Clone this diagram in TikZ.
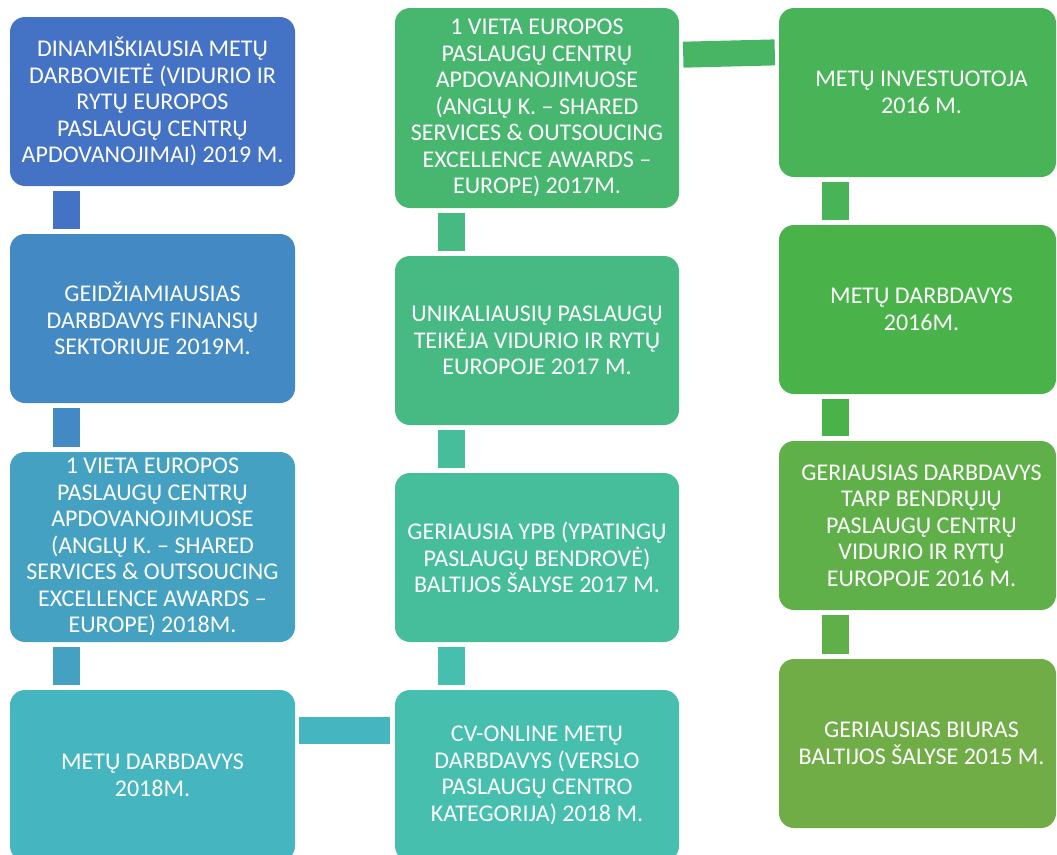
\documentclass[tikz,border=0pt]{standalone}
\usepackage{fontspec}
\setmainfont{Carlito}
\usetikzlibrary{calc}

% gradient from blue to green along the chain of awards
\definecolor{g0}{HTML}{4472C4}
\definecolor{g1}{HTML}{4389C3}
\definecolor{g2}{HTML}{44A1C2}
\definecolor{g3}{HTML}{45B6BF}
\definecolor{g4}{HTML}{46BFAE}
\definecolor{g5}{HTML}{46BE9B}
\definecolor{g6}{HTML}{47BA83}
\definecolor{g7}{HTML}{47B770}
\definecolor{g8}{HTML}{48B457}
\definecolor{g9}{HTML}{49B34A}
\definecolor{g10}{HTML}{5FB049}
\definecolor{g11}{HTML}{70AD47}

\tikzset{
  awardtext/.style={inner sep=0pt, text=white, align=center,
    font=\fontsize{24}{26.5}\selectfont},
  award/.style={awardtext, rounded corners=15pt, minimum width=285pt, minimum height=169pt},
  % right-hand column: narrower boxes whose text sits a little right of centre
  awardright/.style={award, minimum width=277pt},
  rtext/.style={awardtext, xshift=4pt},
  bar/.style={line width=27pt, line cap=butt, shorten <=5pt, shorten >=5pt},
}

\begin{document}
\begin{tikzpicture}[x=1pt, y=-1pt]
\path[use as bounding box, clip] (0,0) rectangle (1057,854);

% left column
\node[award, fill=g0] (a1) at (152.5,101.5) {DINAMIŠKIAUSIA METŲ\\DARBOVIETĖ (VIDURIO IR\\RYTŲ EUROPOS\\PASLAUGŲ CENTRŲ\\APDOVANOJIMAI) 2019 M.};
\node[award, fill=g1] (a2) at (152.5,318.5) {GEIDŽIAMIAUSIAS\\DARBDAVYS FINANSŲ\\SEKTORIUJE 2019M.};
\node[award, fill=g2, minimum height=190pt] (a3) at (152.5,547) {1 VIETA EUROPOS\\PASLAUGŲ CENTRŲ\\APDOVANOJIMUOSE\\(ANGLŲ K. – SHARED\\SERVICES \& OUTSOUCING\\EXCELLENCE AWARDS –\\EUROPE) 2018M.};
\node[award, fill=g3, minimum height=171pt] (a4) at (152.5,775.5) {METŲ DARBDAVYS\\2018M.};

% middle column
\node[award, fill=g7, minimum width=284pt, minimum height=200pt] (b1) at (537,108) {1 VIETA EUROPOS\\PASLAUGŲ CENTRŲ\\APDOVANOJIMUOSE\\(ANGLŲ K. – SHARED\\SERVICES \& OUTSOUCING\\EXCELLENCE AWARDS –\\EUROPE) 2017M.};
\node[award, fill=g6, minimum width=284pt] (b2) at (537,340.5) {UNIKALIAUSIŲ PASLAUGŲ\\TEIKĖJA VIDURIO IR RYTŲ\\EUROPOJE 2017 M.};
\node[award, fill=g5, minimum width=284pt] (b3) at (537,557.5) {GERIAUSIA YPB (YPATINGŲ\\PASLAUGŲ BENDROVĖ)\\BALTIJOS ŠALYSE 2017 M.};
\node[award, fill=g4, minimum width=284pt, minimum height=171pt] (b4) at (537,775.5) {CV-ONLINE METŲ\\DARBDAVYS (VERSLO\\PASLAUGŲ CENTRO\\KATEGORIJA) 2018 M.};

% right column
\node[awardright, fill=g8,  label={[rtext]center:{METŲ INVESTUOTOJA\\2016 M.}}] (c1) at (917.5,92.5) {};
\node[awardright, fill=g9,  label={[rtext]center:{METŲ DARBDAVYS\\2016M.}}] (c2) at (917.5,309.5) {};
\node[awardright, fill=g10, label={[rtext]center:{GERIAUSIAS DARBDAVYS\\TARP BENDRŲJŲ\\PASLAUGŲ CENTRŲ\\VIDURIO IR RYTŲ\\EUROPOJE 2016 M.}}] (c3) at (917.5,525.5) {};
\node[awardright, fill=g11, label={[rtext]center:{GERIAUSIAS BIURAS\\BALTIJOS ŠALYSE 2015 M.}}] (c4) at (917.5,743.5) {};

% vertical links, set 56.5pt in from the left edge of each column (upper box first)
\foreach \u/\v/\col in {a1/a2/g0, a2/a3/g1, a3/a4/g2, b3/b4/g4, b2/b3/g5, b1/b2/g6, c1/c2/g8, c2/c3/g9, c3/c4/g10}
  \draw[bar, draw=\col] ($(\u.south west)+(56.5,0)$) -- ($(\v.north west)+(56.5,0)$);

% links between columns
\draw[bar, draw=g3, shorten <=4pt, shorten >=5pt] ($(a4.north east)+(0,40.5)$) -- ($(b4.north west)+(0,40.5)$);
\draw[line width=26pt, draw=g7!50!g8, shorten <=4pt, shorten >=4pt] ($(b1.north east)+(0,47)$) -- ($(c1.north west)+(0,44.5)$);
\end{tikzpicture}
\end{document}
